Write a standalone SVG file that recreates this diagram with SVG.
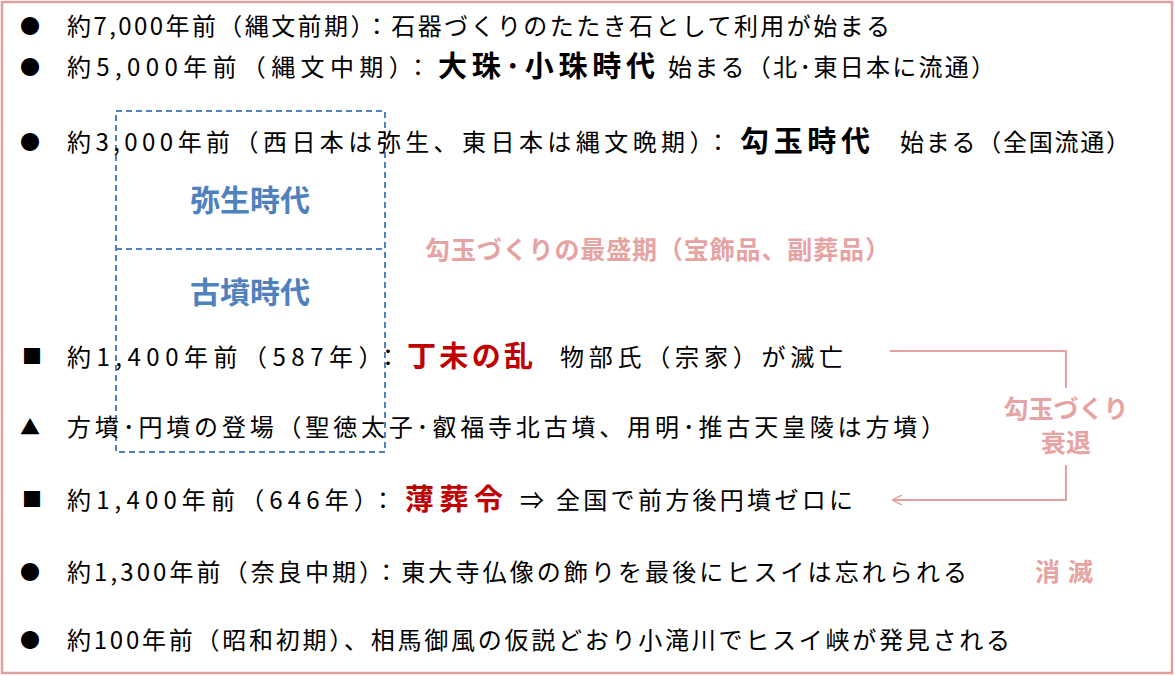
<svg xmlns="http://www.w3.org/2000/svg" width="1175" height="676" viewBox="0 0 1175 676">
<style>
text{font-family:"Noto Sans CJK JP","Noto Sans",sans-serif;font-size:24px;fill:#000}
.b{font-weight:bold;font-size:29px}
.r{fill:#c00000}
.p{fill:#e6a3a3;font-weight:bold;font-size:25px}
.bl{fill:#4f81bd;font-weight:bold;font-size:30px}
.m{font-size:20px}
</style>
<defs><marker id="ah" viewBox="0 0 10 10" refX="9" refY="5" markerWidth="10" markerHeight="10" markerUnits="userSpaceOnUse" orient="auto"><path d="M0,0 L10,5 L0,10" fill="none" stroke="#e6a3a3" stroke-width="1.5"/></marker></defs>
<rect x="2" y="2" width="1170" height="671" fill="#fff" stroke="#e0a0a0" stroke-width="2.5"/>
<g id="yayoi-kofun">
<rect x="116" y="111" width="269" height="341" fill="none" stroke="#4f81bd" stroke-width="2" stroke-dasharray="6,4"/>
<line x1="116" y1="249" x2="385" y2="249" stroke="#4f81bd" stroke-width="2" stroke-dasharray="6,4"/>
<text class="bl" x="250" y="211" text-anchor="middle">弥生時代</text>
<text class="bl" x="250" y="303" text-anchor="middle">古墳時代</text>
</g>
<g id="lines">
<text x="20" y="34" class="m">●</text><text x="67" y="35" textLength="823">約7,000年前（縄文前期）：石器づくりのたたき石として利用が始まる</text>
<text x="20" y="75" class="m">●</text><text x="67" y="76" textLength="363">約5,000年前（縄文中期）：</text><text class="b" x="438" y="77" textLength="217">大珠･小珠時代</text><text x="668" y="76" textLength="327">始まる（北･東日本に流通）</text>
<text x="20" y="150" class="m">●</text><text x="67" y="151" textLength="663">約3,000年前（西日本は弥生、東日本は縄文晩期）：</text><text class="b" x="740" y="152" textLength="130">勾玉時代</text><text x="900" y="151" textLength="230">始まる（全国流通）</text>
<text class="p" x="425" y="259" textLength="465">勾玉づくりの最盛期（宝飾品、副葬品）</text>
<text x="22" y="364" class="m">■</text><text x="67" y="366" textLength="333">約1,400年前（587年）：</text><text class="b r" x="407" y="367" textLength="126">丁未の乱</text><text x="560" y="366" textLength="283">物部氏（宗家）が滅亡</text>
<text x="20" y="435" class="m">▲</text><text x="67" y="436" textLength="878">方墳･円墳の登場（聖徳太子･叡福寺北古墳、用明･推古天皇陵は方墳）</text>
<text x="22" y="507" class="m">■</text><text x="67" y="509" textLength="328">約1,400年前（646年）：</text><text class="b r" x="405" y="510" textLength="98">薄葬令</text><text x="520" y="509" textLength="333">⇒ 全国で前方後円墳ゼロに</text>
<text x="20" y="580" class="m">●</text><text x="67" y="581" textLength="900">約1,300年前（奈良中期）：東大寺仏像の飾りを最後にヒスイは忘れられる</text>
<text class="p" x="1035" y="581" textLength="58">消滅</text>
<text x="20" y="648" class="m">●</text><text x="67" y="649" textLength="943">約100年前（昭和初期）、相馬御風の仮説どおり小滝川でヒスイ峡が発見される</text>
</g>
<g id="connectors">
<polyline points="890,351 1066,351 1066,388" fill="none" stroke="#e6a3a3" stroke-width="2"/>
<polyline points="1066,465 1066,500 893,500" fill="none" stroke="#e6a3a3" stroke-width="2" marker-end="url(#ah)"/>
</g>
<g id="decline">
<text class="p" x="1066" y="418" text-anchor="middle">勾玉づくり</text>
<text class="p" x="1066" y="452" text-anchor="middle">衰退</text>
</g>
</svg>
